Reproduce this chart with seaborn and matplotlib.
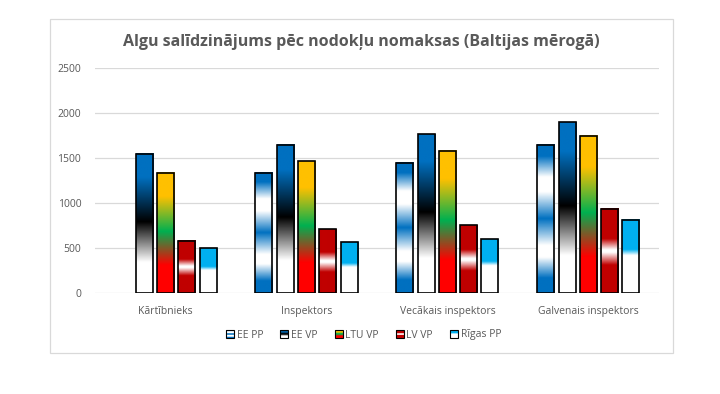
import numpy as np
import pandas as pd
import matplotlib
matplotlib.use("Agg")
import matplotlib.pyplot as plt
import seaborn as sns
from matplotlib.colors import LinearSegmentedColormap
from matplotlib.patches import Rectangle
from matplotlib.legend_handler import HandlerBase

categories = ["Kārtībnieks", "Inspektors", "Vecākais inspektors", "Galvenais inspektors"]
series = ["EE PP", "EE VP", "LTU VP", "LV VP", "Rīgas PP"]

ee_pp = [np.nan, 1340, 1445, 1650]
ee_vp = [1545, 1645, 1765, 1900]
ltu_vp = [1335, 1465, 1585, 1750]
lv_vp = [580, 710, 755, 935]
rigas_pp = [500, 565, 600, 815]

title = "Algu salīdzinājums pēc nodokļu nomaksas (Baltijas mērogā)"

# gradient stops, top of bar -> bottom of bar
BLUE = "#0070C0"
stops = {
    "EE PP": [(0, BLUE), (0.08, BLUE), (0.22, "white"), (0.32, "white"), (0.5, BLUE),
              (0.68, "white"), (0.76, "white"), (0.9, BLUE), (1, BLUE)],
    "EE VP": [(0, BLUE), (0.17, BLUE), (0.49, "black"), (0.78, "white"), (1, "white")],
    "LTU VP": [(0, "#FFC000"), (0.2, "#FFC000"), (0.49, "#00B050"), (0.77, "#FF0000"), (1, "#FF0000")],
    "LV VP": [(0, "#C00000"), (0.36, "#C00000"), (0.49, "white"), (0.52, "white"),
              (0.67, "#C00000"), (1, "#C00000")],
    "Rīgas PP": [(0, "#00B0F0"), (0.41, "#00B0F0"), (0.49, "white"), (1, "white")],
}
cmaps = {k: LinearSegmentedColormap.from_list(k, v) for k, v in stops.items()}

df = pd.DataFrame({
    "Amats": categories * 5,
    "Grupa": [s for s in series for _ in categories],
    "Alga": ee_pp + ee_vp + ltu_vp + lv_vp + rigas_pp,
})

plt.rcParams["font.family"] = ["Open Sans", "DejaVu Sans"]
grey = "#595959"

fig = plt.figure(figsize=(7.2, 3.94), dpi=100)
ax = fig.add_axes([0.132, 0.256, 0.783, 0.571])

sns.barplot(data=df, x="Amats", y="Alga", hue="Grupa", order=categories,
            hue_order=series, width=0.755, gap=0.2, ax=ax, legend=False,
            errorbar=None)

grad = np.linspace(0, 1, 256).reshape(-1, 1)
for name, cont in zip(series, ax.containers):
    for bar in cont:
        h = bar.get_height()
        if not np.isfinite(h) or h <= 0:
            bar.set_visible(False)
            continue
        x0 = bar.get_x()
        w = bar.get_width()
        ax.imshow(grad, cmap=cmaps[name], aspect="auto", extent=[x0, x0 + w, 0, h],
                  origin="upper", zorder=2, interpolation="bilinear")
        bar.set_facecolor("none")
        bar.set_edgecolor("black")
        bar.set_linewidth(1.2)
        bar.set_zorder(3)

ax.set_xlim(-0.5, 3.5)
ax.set_ylim(0, 2500)
ax.set_yticks(range(0, 2501, 500))
ax.yaxis.grid(True, color="#D9D9D9", linewidth=0.9)
ax.set_axisbelow(True)
for s in ax.spines.values():
    s.set_visible(False)
ax.tick_params(axis="both", length=0, colors=grey, labelsize=7.5)
ax.tick_params(axis="y", pad=10)
ax.tick_params(axis="x", pad=9)
ax.set_xlabel("")
ax.set_ylabel("")

fig.text(0.502, 0.893, title, ha="center", va="center", fontsize=11.5,
         fontweight="bold", color=grey)

# chart area border
fig.patches.append(Rectangle((50 / 720, 1 - 353 / 394), 623 / 720, 334 / 394,
                             transform=fig.transFigure, fill=False,
                             edgecolor="#D9D9D9", linewidth=0.9))


class GradHandle:
    def __init__(self, name):
        self.name = name


class GradHandler(HandlerBase):
    def create_artists(self, legend, orig_handle, xdescent, ydescent, width, height,
                       fontsize, trans):
        cm = cmaps[orig_handle.name]
        n = 12
        size = height
        x0 = -xdescent + (width - size) / 2
        y0 = -ydescent
        arts = []
        for i in range(n):
            c = cm((i + 0.5) / n)
            r = Rectangle((x0, y0 + size * (n - 1 - i) / n), size, size / n,
                          facecolor=c, edgecolor="none", transform=trans)
            arts.append(r)
        arts.append(Rectangle((x0, y0), size, size, facecolor="none",
                              edgecolor="black", linewidth=0.8, transform=trans))
        return arts


handles = [GradHandle(s) for s in series]
fig.legend(handles, series, handler_map={GradHandle: GradHandler()},
           loc="center", bbox_to_anchor=(0.505, 1 - 335 / 394), ncol=5,
           frameon=False, fontsize=7.5, labelcolor=grey, handlelength=0.8,
           handleheight=0.8, handletextpad=0.25, columnspacing=1.6)

fig.savefig("out.png", dpi=100, facecolor="white")
